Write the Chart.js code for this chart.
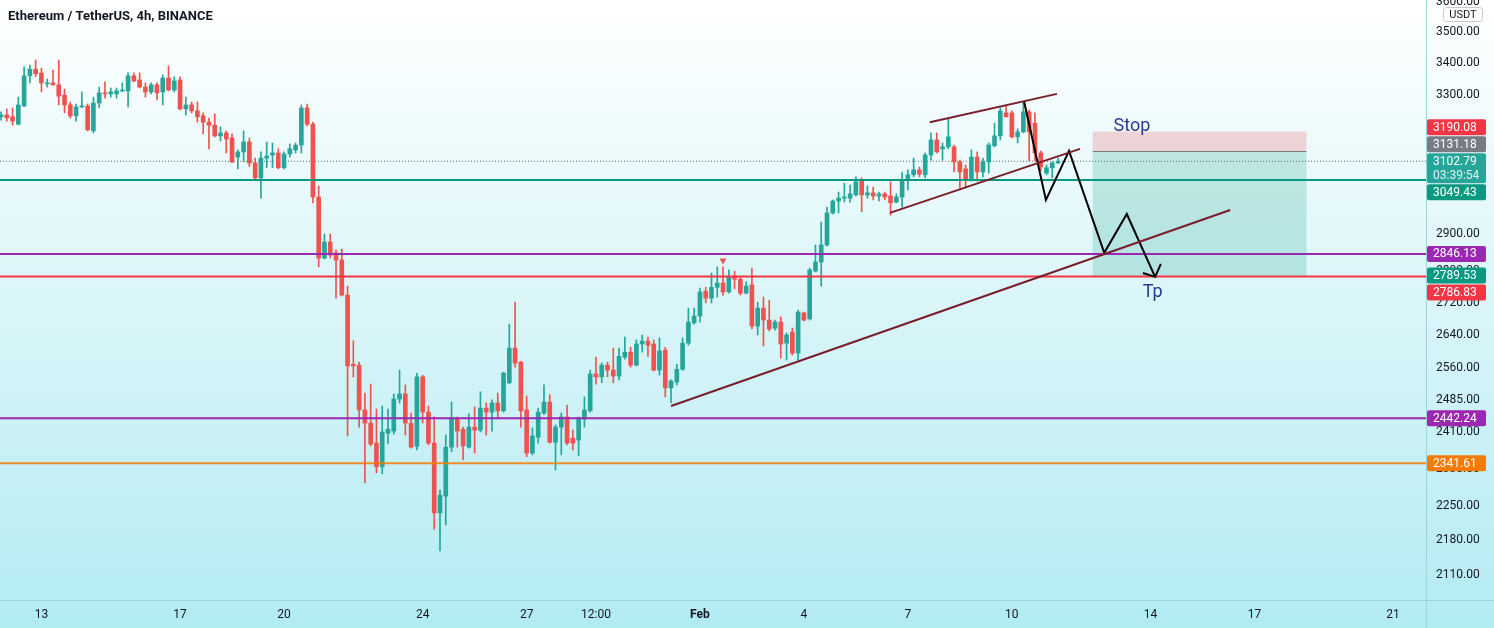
<!DOCTYPE html>
<html>
<head>
<meta charset="utf-8">
<title>ETHUSDT 4h</title>
<script src="https://cdn.jsdelivr.net/npm/chart.js@4.4.1/dist/chart.umd.min.js"></script>
<style>
  html, body { margin: 0; padding: 0; background: #ffffff; }
  #wrap { width: 1494px; height: 628px; }
</style>
</head>
<body>
<div id="wrap"><canvas id="chart" width="1494" height="628"></canvas></div>
<script>
// ===== candles (4h) =====
const openP = [
  3234, 3240, 3234, 3212, 3267, 3360, 3381, 3369, 3335, 3338,
  3332, 3300, 3270, 3237, 3264, 3267, 3192, 3276, 3307, 3304,
  3304, 3313, 3313, 3360, 3347, 3325, 3310, 3332, 3310, 3353,
  3316, 3347, 3258, 3270, 3252, 3237, 3218, 3209, 3177, 3186,
  3171, 3115, 3130, 3159, 3098, 3055, 3112, 3121, 3127, 3084,
  3124, 3136, 3150, 3261, 3212, 3001, 2835, 2878, 2849, 2830,
  2739, 2568, 2566, 2461, 2431, 2386, 2334, 2408, 2413, 2486,
  2498, 2431, 2379, 2538, 2456, 2386, 2236, 2271, 2377, 2440,
  2417, 2377, 2422, 2415, 2465, 2456, 2477, 2459, 2524, 2607,
  2573, 2461, 2364, 2399, 2454, 2479, 2388, 2422, 2445, 2397,
  2393, 2440, 2459, 2545, 2538, 2566, 2554, 2540, 2585, 2597,
  2566, 2617, 2624, 2617, 2554, 2602, 2512, 2526, 2556, 2619,
  2669, 2686, 2749, 2731, 2759, 2770, 2747, 2788, 2780, 2744,
  2765, 2661, 2706, 2676, 2656, 2671, 2619, 2646, 2595, 2694,
  2679, 2801, 2825, 2870, 2957, 2990, 2998, 2998, 3007, 3049,
  3007, 3013, 3004, 3010, 3004, 2987, 3001, 3049, 3064, 3078,
  3064, 3121, 3165, 3139, 3145, 3145, 3101, 3081, 3049, 3115,
  3072, 3101, 3148, 3177, 3246, 3246, 3174, 3189, 3249, 3215,
  3127, 3069, 3084, 3098
];
const highP = [
  3249, 3258, 3261, 3294, 3388, 3394, 3410, 3384, 3350, 3378,
  3410, 3319, 3279, 3273, 3310, 3273, 3294, 3325, 3341, 3322,
  3322, 3338, 3369, 3369, 3369, 3338, 3338, 3338, 3363, 3391,
  3357, 3357, 3294, 3279, 3279, 3246, 3230, 3243, 3204, 3192,
  3183, 3136, 3192, 3171, 3112, 3130, 3159, 3156, 3139, 3130,
  3153, 3156, 3270, 3273, 3218, 3032, 2899, 2899, 2857, 2859,
  2762, 2625, 2573, 2500, 2521, 2463, 2470, 2463, 2498, 2554,
  2519, 2454, 2547, 2542, 2470, 2445, 2284, 2404, 2479, 2445,
  2422, 2452, 2468, 2503, 2477, 2484, 2500, 2549, 2666, 2721,
  2575, 2493, 2420, 2465, 2519, 2496, 2427, 2454, 2472, 2415,
  2445, 2491, 2554, 2585, 2571, 2573, 2607, 2607, 2634, 2609,
  2627, 2639, 2634, 2627, 2632, 2609, 2531, 2568, 2632, 2706,
  2706, 2757, 2759, 2796, 2812, 2812, 2804, 2801, 2786, 2773,
  2809, 2721, 2734, 2726, 2676, 2684, 2644, 2656, 2701, 2696,
  2809, 2870, 2932, 2973, 2993, 3015, 3040, 3035, 3058, 3055,
  3032, 3029, 3015, 3015, 3044, 3010, 3072, 3078, 3112, 3086,
  3127, 3186, 3186, 3156, 3227, 3150, 3106, 3092, 3136, 3130,
  3112, 3156, 3215, 3261, 3267, 3252, 3198, 3279, 3255, 3246,
  3133, 3092, 3101, 3112
];
const lowP = [
  3224, 3221, 3209, 3210, 3265, 3338, 3357, 3310, 3325, 3330,
  3270, 3246, 3230, 3221, 3262, 3192, 3186, 3261, 3291, 3294,
  3291, 3310, 3264, 3341, 3322, 3294, 3304, 3285, 3270, 3313,
  3310, 3255, 3240, 3246, 3218, 3183, 3139, 3174, 3162, 3127,
  3098, 3081, 3101, 3087, 3049, 2998, 3084, 3084, 3081, 3081,
  3115, 3127, 3127, 3206, 2985, 2812, 2833, 2835, 2731, 2737,
  2402, 2538, 2422, 2299, 2380, 2321, 2319, 2384, 2406, 2477,
  2404, 2375, 2371, 2431, 2382, 2202, 2158, 2211, 2367, 2377,
  2349, 2375, 2364, 2411, 2404, 2413, 2443, 2456, 2522, 2561,
  2422, 2356, 2360, 2386, 2450, 2386, 2327, 2360, 2382, 2371,
  2358, 2422, 2456, 2521, 2524, 2538, 2524, 2531, 2580, 2561,
  2564, 2597, 2587, 2552, 2542, 2491, 2477, 2519, 2554, 2614,
  2666, 2671, 2719, 2719, 2734, 2739, 2744, 2755, 2739, 2742,
  2654, 2639, 2612, 2649, 2651, 2583, 2578, 2590, 2578, 2674,
  2676, 2799, 2762, 2867, 2954, 2957, 2987, 2987, 3004, 2960,
  2998, 2993, 2990, 2993, 2951, 2985, 2973, 3021, 3058, 3058,
  3055, 3106, 3127, 3106, 3139, 3072, 3027, 3027, 3046, 3046,
  3058, 3069, 3145, 3165, 3233, 3171, 3156, 3186, 3104, 3104,
  3075, 3064, 3055, 3096
];
const closeP = [
  3240, 3231, 3221, 3270, 3360, 3381, 3366, 3338, 3338, 3332,
  3297, 3270, 3237, 3264, 3267, 3195, 3276, 3307, 3304, 3310,
  3313, 3316, 3360, 3344, 3325, 3310, 3332, 3307, 3353, 3316,
  3344, 3258, 3270, 3252, 3234, 3218, 3209, 3177, 3186, 3168,
  3101, 3130, 3159, 3098, 3055, 3112, 3118, 3127, 3084, 3124,
  3139, 3150, 3261, 3212, 3001, 2835, 2878, 2843, 2830, 2739,
  2564, 2564, 2461, 2431, 2384, 2334, 2411, 2417, 2486, 2498,
  2431, 2377, 2538, 2456, 2386, 2236, 2273, 2377, 2440, 2413,
  2380, 2422, 2415, 2465, 2456, 2477, 2459, 2547, 2607, 2571,
  2459, 2364, 2402, 2456, 2479, 2388, 2422, 2445, 2386, 2386,
  2443, 2461, 2545, 2538, 2566, 2554, 2540, 2587, 2597, 2566,
  2617, 2624, 2614, 2554, 2600, 2512, 2528, 2556, 2619, 2671,
  2686, 2747, 2731, 2759, 2770, 2747, 2786, 2780, 2744, 2762,
  2661, 2706, 2676, 2654, 2671, 2617, 2639, 2595, 2696, 2676,
  2804, 2825, 2870, 2957, 2990, 2998, 3001, 3010, 3044, 3007,
  3013, 3004, 3010, 3001, 2985, 3001, 3049, 3064, 3078, 3066,
  3121, 3165, 3130, 3145, 3174, 3101, 3072, 3049, 3115, 3072,
  3101, 3150, 3177, 3252, 3234, 3174, 3189, 3249, 3189, 3127,
  3087, 3084, 3098, 3102.79
];

// time axis: candle index of each labelled bar
const dateTickIdx = [7, 31, 49, 73, 91, 103, 121, 139, 157, 175, 199, 217, 241];
const dateTickText = ['13', '17', '20', '24', '27', '12:00', 'Feb', '4', '7', '10', '14', '17', '21'];

// price axis ticks
const priceTicks = [3600, 3500, 3400, 3300, 3200, 3100, 3000, 2900, 2800, 2720, 2640, 2560, 2485, 2410, 2330, 2250, 2180, 2110];

// horizontal levels
const levelPrices = [3049.43, 2846.13, 2786.83, 2442.24, 2341.61];
const lastPrice = 3102.79;
const countdown = '03:39:54';

// trend lines (candle index, price)
const channelTopIdx = [160.8, 182.8];
const channelTopPrice = [3218, 3304];
const channelBotIdx = [153.9, 186.8];
const channelBotPrice = [2957, 3139];
const supportIdx = [116.0, 212.8];
const supportPrice = [2470, 2965];

// projected path
const zigIdx = [177.1, 180.9, 184.9, 191.0, 194.9, 199.8];
const zigPrice = [3282, 2993, 3133, 2849, 2954, 2786];
const arrowIdx = [197.7, 199.8, 200.8];
const arrowPrice = [2796, 2786, 2820];

// swing high marker
const peakIdx = [125];
const peakPrice = [2829];

// short position tool
const stopPrice = 3190.08;
const entryPrice = 3131.18;
const targetPrice = 2786.83;
const positionIdx = [189, 226];
const noteText = ['Stop', 'Tp'];
const noteIdx = [195.8, 199.4];
const notePrice = [3205, 2745];

// price axis tags
const tagPrices = [3190.08, 3131.18, 3102.79, 3049.43, 2846.13, 2789.53, 2786.83, 2442.24, 2341.61];

// ===== styles =====
const UP = '#26a69a';
const DOWN = '#ef5350';
const LEVEL_COLORS = ['#089981', '#9c27b0', '#f23645', '#9c27b0', 'rgba(245,124,0,0.85)'];
const TAG_COLORS = ['#f23645', '#787b86', '#26a69a', '#089981', '#9c27b0', '#089981', '#f23645', '#9c27b0', '#f57c00'];
const TREND = '#7a1d2a';
const FONT = 'Roboto';
const X_MIN = -0.173, X_MAX = 246.7;
const Y_MIN = 2061.5, Y_MAX = 3606;

Chart.defaults.font.family = FONT;

const idx = closeP.map((_, i) => i);
const candleColor = idx.map(i => closeP[i] >= openP[i] ? UP : DOWN);

function pts(xs, ys) {
    return xs.map((x, i) => ({ x: x, y: ys[i] }));
}

function lineSet(points, color, extra) {
    return Object.assign({
        type: 'line',
        data: points,
        borderColor: color,
        borderWidth: 2,
        pointRadius: 0,
        fill: false,
        tension: 0,
        order: 1
    }, extra || {});
}

const datasets = [];

// dotted last price line
datasets.push(lineSet(pts([X_MIN, X_MAX], [lastPrice, lastPrice]), 'rgba(60,60,60,0.75)', { borderWidth: 1, borderDash: [1, 2], order: 10 }));

// wicks
datasets.push({
    type: 'bar',
    data: idx.map(i => ({ x: i, y: [lowP[i], highP[i]] })),
    backgroundColor: candleColor,
    barThickness: 1,
    grouped: false,
    order: 6
});
// bodies
datasets.push({
    type: 'bar',
    data: idx.map(i => ({ x: i, y: [openP[i], closeP[i]] })),
    backgroundColor: candleColor,
    barThickness: 4,
    minBarLength: 1,
    grouped: false,
    order: 5
});

// levels
levelPrices.forEach((p, k) => {
    datasets.push(lineSet(pts([X_MIN, X_MAX], [p, p]), LEVEL_COLORS[k], { order: 3 }));
});

// trend lines
datasets.push(lineSet(pts(channelTopIdx, channelTopPrice), TREND));
datasets.push(lineSet(pts(channelBotIdx, channelBotPrice), TREND));
datasets.push(lineSet(pts(supportIdx, supportPrice), TREND));

// projected path + arrow head
datasets.push(lineSet(pts(zigIdx, zigPrice), '#000000', { borderJoinStyle: 'miter' }));
datasets.push(lineSet(pts(arrowIdx, arrowPrice), '#000000', { borderJoinStyle: 'miter' }));

// peak marker
datasets.push({
    type: 'line',
    data: pts(peakIdx, peakPrice),
    showLine: false,
    pointStyle: 'triangle',
    rotation: 180,
    pointRadius: 4,
    pointBackgroundColor: '#ef5350',
    pointBorderWidth: 0,
    order: 1
});

function roundRect(ctx, x, y, w, h, r) {
    ctx.beginPath();
    ctx.moveTo(x + r, y);
    ctx.lineTo(x + w - r, y);
    ctx.quadraticCurveTo(x + w, y, x + w, y + r);
    ctx.lineTo(x + w, y + h - r);
    ctx.quadraticCurveTo(x + w, y + h, x + w - r, y + h);
    ctx.lineTo(x + r, y + h);
    ctx.quadraticCurveTo(x, y + h, x, y + h - r);
    ctx.lineTo(x, y + r);
    ctx.quadraticCurveTo(x, y, x + r, y);
    ctx.closePath();
}

const decor = {
    id: 'decor',
    beforeDraw(chart) {
        const { ctx, width, height } = chart;
        const g = ctx.createLinearGradient(0, 0, 0, height);
        g.addColorStop(0, '#ffffff');
        g.addColorStop(1, '#b2ebf2');
        ctx.save();
        ctx.fillStyle = g;
        ctx.fillRect(0, 0, width, height);
        ctx.restore();
    },
    beforeDatasetsDraw(chart) {
        const { ctx, scales: { x, y } } = chart;
        const x0 = x.getPixelForValue(positionIdx[0]);
        const x1 = x.getPixelForValue(positionIdx[1]);
        const yS = y.getPixelForValue(stopPrice);
        const yE = y.getPixelForValue(entryPrice);
        const yT = y.getPixelForValue(targetPrice);
        ctx.save();
        ctx.fillStyle = 'rgba(242, 54, 69, 0.2)';
        ctx.fillRect(x0, yS, x1 - x0, yE - yS);
        ctx.fillStyle = 'rgba(8, 153, 129, 0.2)';
        ctx.fillRect(x0, yE, x1 - x0, yT - yE);
        ctx.strokeStyle = '#787b86';
        ctx.lineWidth = 1;
        ctx.beginPath();
        ctx.moveTo(x0, Math.round(yE) + 0.5);
        ctx.lineTo(x1, Math.round(yE) + 0.5);
        ctx.stroke();
        ctx.restore();
    },
    afterDatasetsDraw(chart) {
        const { ctx, scales: { x, y } } = chart;
        ctx.save();
        ctx.font = '18px ' + FONT;
        ctx.fillStyle = '#2b3990';
        ctx.textAlign = 'center';
        ctx.textBaseline = 'middle';
        noteText.forEach((t, k) => {
            ctx.fillText(t, x.getPixelForValue(noteIdx[k]), y.getPixelForValue(notePrice[k]));
        });
        ctx.restore();
    },
    afterDraw(chart) {
        const { ctx, width, height, chartArea, scales: { y } } = chart;
        ctx.save();

        // pane separators
        ctx.strokeStyle = '#9fd3da';
        ctx.lineWidth = 1;
        ctx.beginPath();
        ctx.moveTo(0, chartArea.bottom + 0.5);
        ctx.lineTo(width, chartArea.bottom + 0.5);
        ctx.moveTo(chartArea.right + 0.5, 0);
        ctx.lineTo(chartArea.right + 0.5, height);
        ctx.stroke();

        // title
        ctx.fillStyle = '#131722';
        ctx.font = 'bold 13px ' + FONT;
        ctx.textAlign = 'left';
        ctx.textBaseline = 'middle';
        ctx.fillText('Ethereum / TetherUS, 4h, BINANCE', 8, 17);

        // price tags, last price stays put, others move away from it
        const tags = tagPrices.map((p, k) => {
            const h = p === lastPrice ? 30 : 16;
            const cy = y.getPixelForValue(p);
            return { p: p, k: k, h: h, top: p === lastPrice ? cy - 8 : cy - h / 2 };
        }).sort((a, b) => a.top - b.top);
        const anchor = tags.findIndex(t => t.p === lastPrice);
        for (let i = anchor - 1; i >= 0; i--) {
            const limit = tags[i + 1].top - 1;
            if (tags[i].top + tags[i].h > limit) tags[i].top = limit - tags[i].h;
        }
        for (let i = anchor + 1; i < tags.length; i++) {
            const limit = tags[i - 1].top + tags[i - 1].h + 1;
            if (tags[i].top < limit) tags[i].top = limit;
        }
        const lx = chartArea.right + 1;
        tags.forEach(t => {
            ctx.fillStyle = TAG_COLORS[t.k];
            roundRect(ctx, lx, t.top, 59, t.h, 2);
            ctx.fill();
            ctx.fillStyle = '#ffffff';
            ctx.font = '12px ' + FONT;
            ctx.textAlign = 'left';
            ctx.textBaseline = 'middle';
            ctx.fillText(t.p.toFixed(2), lx + 6, t.top + 8.5);
            if (t.p === lastPrice) {
                ctx.fillStyle = 'rgba(255,255,255,0.85)';
                ctx.fillText(countdown, lx + 6, t.top + 22.5);
            }
        });

        // currency box
        ctx.fillStyle = '#ffffff';
        ctx.strokeStyle = '#c6cbd2';
        roundRect(ctx, 1443.5, 7.5, 39, 14, 3);
        ctx.fill();
        ctx.stroke();
        ctx.fillStyle = '#131722';
        ctx.font = '11px ' + FONT;
        ctx.textAlign = 'center';
        ctx.fillText('USDT', 1463, 15);
        ctx.restore();
    }
};

new Chart(document.getElementById('chart'), {
    type: 'bar',
    data: { datasets: datasets },
    options: {
        responsive: false,
        animation: false,
        devicePixelRatio: 1,
        events: [],
        layout: { padding: 0, autoPadding: false },
        plugins: {
            legend: { display: false },
            tooltip: { enabled: false }
        },
        scales: {
            x: {
                type: 'linear',
                min: X_MIN,
                max: X_MAX,
                offset: false,
                grid: { display: false, drawTicks: false },
                border: { display: false },
                afterBuildTicks: s => { s.ticks = dateTickIdx.map(v => ({ value: v })); },
                afterFit: s => { s.height = 28; s.paddingLeft = 0; s.paddingRight = 0; },
                ticks: {
                    autoSkip: false,
                    maxRotation: 0,
                    padding: 8,
                    color: '#131722',
                    font: c => ({ family: FONT, size: 12, weight: dateTickText[c.index] === 'Feb' ? 'bold' : 'normal' }),
                    callback: (v, i) => dateTickText[i]
                }
            },
            y: {
                type: 'logarithmic',
                position: 'right',
                min: Y_MIN,
                max: Y_MAX,
                grid: { display: false, drawTicks: false },
                border: { display: false },
                afterBuildTicks: s => { s.ticks = priceTicks.map(v => ({ value: v })); },
                afterFit: s => { s.width = 68; s.paddingTop = 0; s.paddingBottom = 0; },
                ticks: {
                    autoSkip: false,
                    padding: 10,
                    color: '#131722',
                    font: { family: FONT, size: 12 },
                    callback: v => Number(v).toFixed(2)
                }
            }
        }
    },
    plugins: [decor]
});
</script>
</body>
</html>
